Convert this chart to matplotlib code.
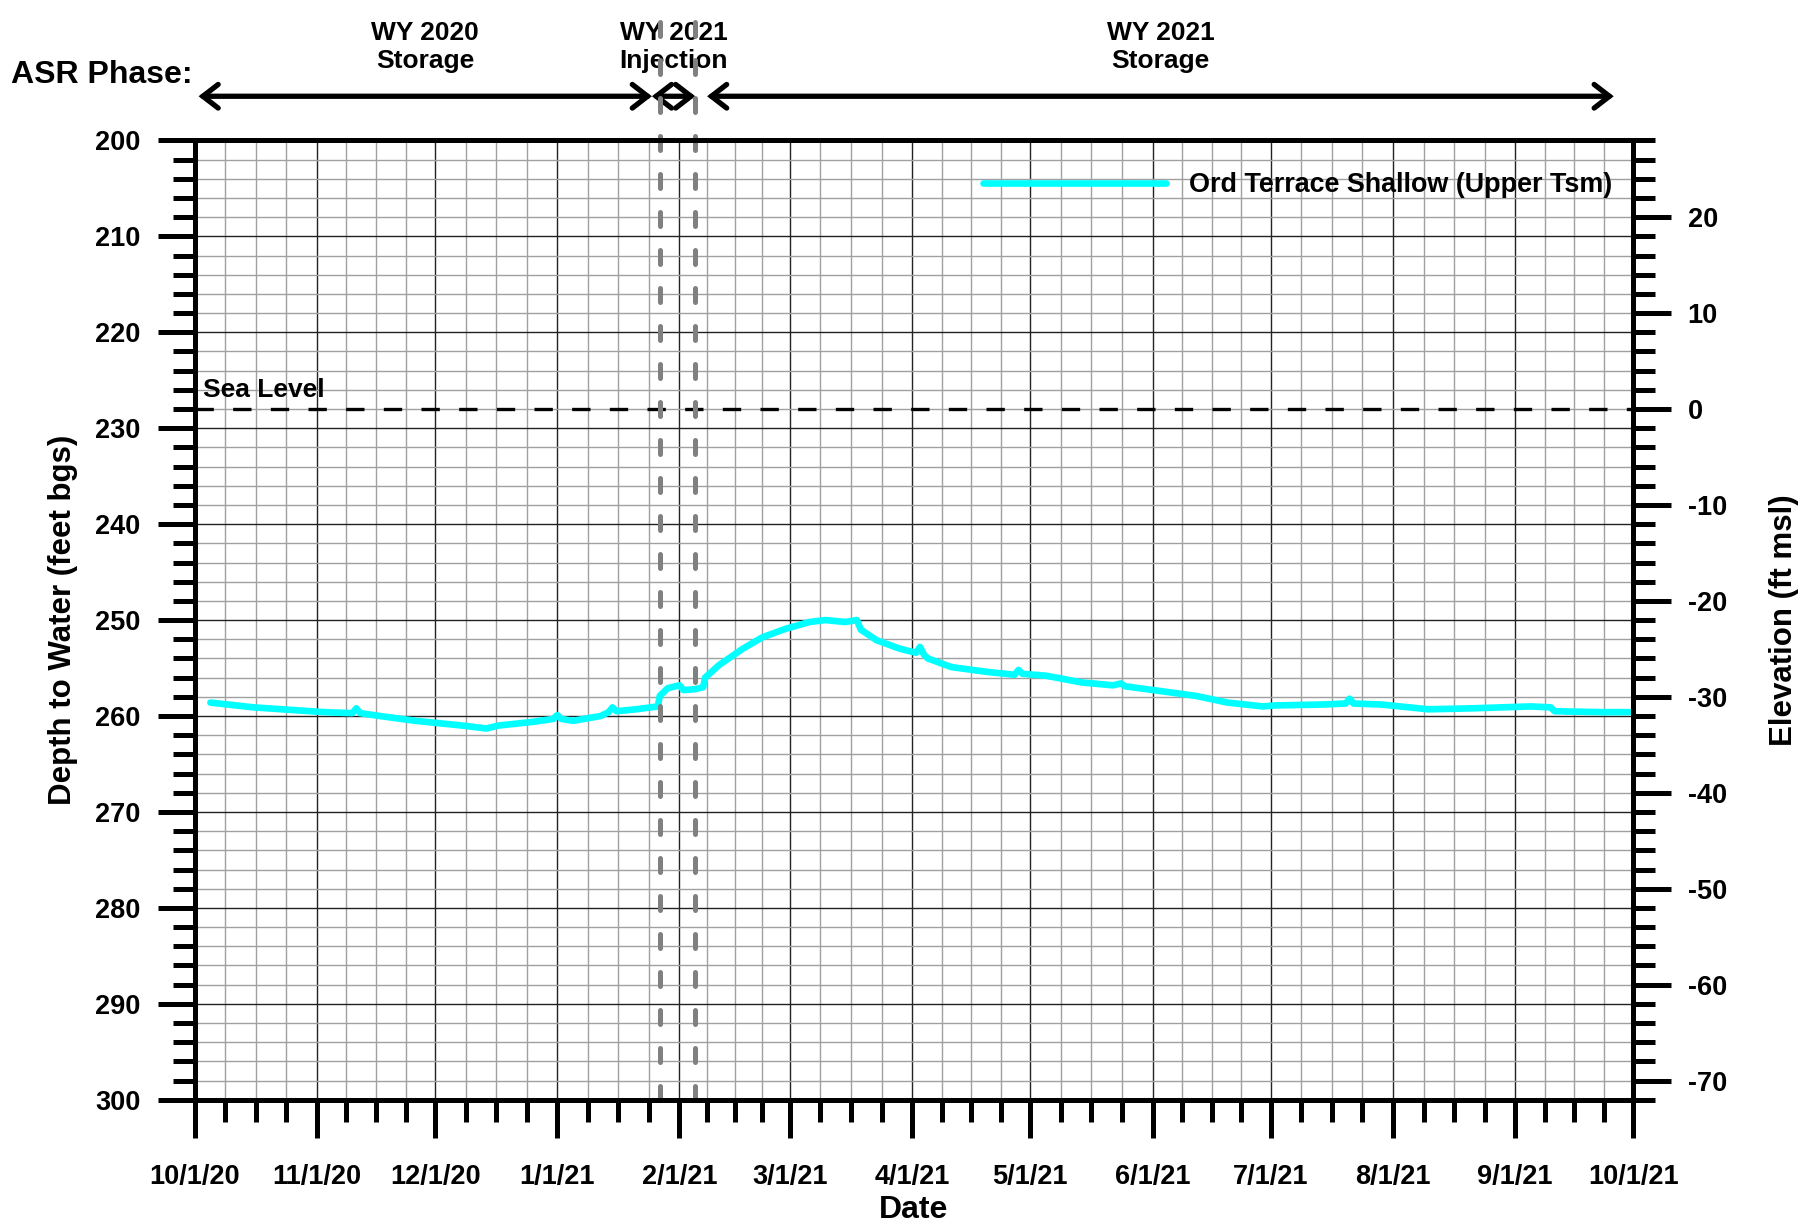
import pandas as pd
import matplotlib
matplotlib.use("Agg")
import matplotlib.pyplot as plt
import matplotlib.dates as mdates
from matplotlib import font_manager
from matplotlib.ticker import MultipleLocator, FixedLocator

# pick a narrow bold font if it is there
try:
    font_manager.findfont("Liberation Sans Narrow", fallback_to_default=False)
    narrow = "Liberation Sans Narrow"
except Exception:
    narrow = "Liberation Sans"
plt.rcParams["font.family"] = "Liberation Sans"
plt.rcParams["font.weight"] = "bold"
plt.rcParams["axes.unicode_minus"] = False

# water level record (depth to water, feet bgs)
dates = [
    "2020-10-05", "2020-10-16", "2020-11-03", "2020-11-10", "2020-11-11",
    "2020-11-12", "2020-11-17", "2020-11-26", "2020-12-08", "2020-12-14",
    "2020-12-17", "2020-12-26", "2020-12-31", "2021-01-01", "2021-01-02",
    "2021-01-05", "2021-01-12", "2021-01-14", "2021-01-15", "2021-01-16",
    "2021-01-21", "2021-01-26 12:00", "2021-01-27", "2021-01-29", "2021-02-01",
    "2021-02-02", "2021-02-05", "2021-02-07", "2021-02-07 12:00", "2021-02-11",
    "2021-02-17", "2021-02-22", "2021-02-28", "2021-03-06", "2021-03-10",
    "2021-03-15", "2021-03-18", "2021-03-19", "2021-03-23", "2021-03-29",
    "2021-04-02", "2021-04-03", "2021-04-04", "2021-04-05", "2021-04-11",
    "2021-04-20", "2021-04-27", "2021-04-28", "2021-04-29", "2021-05-05",
    "2021-05-14", "2021-05-22", "2021-05-24", "2021-05-25", "2021-06-03",
    "2021-06-12", "2021-06-20", "2021-06-29", "2021-07-02", "2021-07-14",
    "2021-07-20", "2021-07-21", "2021-07-22", "2021-07-29", "2021-08-10",
    "2021-08-21", "2021-09-05", "2021-09-10", "2021-09-11", "2021-09-23",
    "2021-09-30",
]
depths = [
    258.6, 259.1, 259.6, 259.7, 259.2,
    259.7, 260.0, 260.5, 261.0, 261.3,
    261.0, 260.6, 260.3, 259.9, 260.3,
    260.5, 260.0, 259.6, 259.1, 259.5,
    259.3, 259.0, 257.9, 257.1, 256.8,
    257.3, 257.2, 257.0, 256.0, 254.7,
    253.0, 251.8, 250.9, 250.2, 250.0,
    250.2, 250.0, 251.0, 252.1, 253.0,
    253.4, 252.8, 253.6, 254.0, 254.9,
    255.4, 255.7, 255.2, 255.6, 255.8,
    256.5, 256.8, 256.6, 256.9, 257.4,
    257.9, 258.6, 259.0, 258.9, 258.8,
    258.7, 258.2, 258.7, 258.8, 259.3,
    259.2, 259.0, 259.1, 259.5, 259.6,
    259.6,
]
series_label = "Ord Terrace Shallow (Upper Tsm)"

# phases along the top
phase_names = ["WY 2020\nStorage", "WY 2021\nInjection", "WY 2021\nStorage"]
phase_starts = ["2020-10-02", "2021-01-25", "2021-02-08"]
phase_ends = ["2021-01-25", "2021-02-05", "2021-09-26"]
injection_bounds = ["2021-01-27", "2021-02-05"]

ground_elev = 228  # elevation = ground_elev - depth
x_start, x_end = "2020-10-01", "2021-10-01"

df = pd.DataFrame({"date": pd.to_datetime(dates, format="mixed"), "depth": depths})

fig = plt.figure(figsize=(18.19, 12.24), dpi=100)
ax = fig.add_axes([0.107, 0.1015, 0.791, 0.7838])

ax.plot(df["date"], df["depth"], color="#00ffff", lw=4.8, label=series_label,
        solid_capstyle="round", zorder=4)

ax.set_ylim(300, 200)
ax.set_xlim(pd.Timestamp(x_start), pd.Timestamp(x_end))

# ticks
ax.yaxis.set_major_locator(MultipleLocator(10))
ax.yaxis.set_minor_locator(MultipleLocator(2))
months = pd.date_range(x_start, x_end, freq="MS")
minor_x = []
for a, b in zip(months[:-1], months[1:]):
    for k in (1, 2, 3):
        minor_x.append(mdates.date2num(a + (b - a) * k / 4))
ax.xaxis.set_major_locator(FixedLocator(mdates.date2num(months)))
ax.xaxis.set_minor_locator(FixedLocator(minor_x))
ax.xaxis.set_major_formatter(mdates.DateFormatter("%-m/%-d/%y"))

ax.grid(which="major", color="#222222", lw=1.0, zorder=0)
ax.grid(which="minor", color="#a0a0a0", lw=1.0, zorder=0)

for s in ax.spines.values():
    s.set_linewidth(3.6)
ax.tick_params(which="major", direction="out", length=27, width=3.6, pad=12,
               labelsize=19.5)
ax.tick_params(axis="x", which="major", pad=19)
ax.tick_params(which="minor", direction="out", length=16, width=3.6)
for lbl in ax.get_xticklabels() + ax.get_yticklabels():
    lbl.set_family(narrow)
    lbl.set_weight("bold")

ax.set_ylabel("Depth to Water (feet bgs)", fontsize=22.5, fontweight="bold", labelpad=12)
ax.set_xlabel("Date", fontsize=23, fontweight="bold", labelpad=4)

# right axis in elevation
ax2 = ax.twinx()
ax2.set_ylim(ground_elev - 300, ground_elev - 200)
ax2.yaxis.set_major_locator(MultipleLocator(10))
ax2.yaxis.set_minor_locator(MultipleLocator(2))
for s in ax2.spines.values():
    s.set_linewidth(3.6)
ax2.tick_params(which="major", direction="out", length=27, width=3.6, pad=12,
                labelsize=19.5)
ax2.tick_params(which="minor", direction="out", length=16, width=3.6)
for lbl in ax2.get_yticklabels():
    lbl.set_family(narrow)
    lbl.set_weight("bold")
ax2.set_ylabel("Elevation (ft msl)", fontsize=22.5, fontweight="bold", labelpad=30)

# sea level
ax.axhline(ground_elev, color="black", lw=2.4, ls=(0, (5.5, 5.8)), zorder=3)
ax.text(pd.Timestamp(x_start) + pd.Timedelta(days=2), ground_elev - 0.7, "Sea Level",
        fontsize=19, fontweight="bold", va="bottom", ha="left")

# injection period lines, running up into the header
for d in injection_bounds:
    ax.axvline(pd.Timestamp(d), ymin=0, ymax=1.15, color="#808080", lw=3.6,
               ls=(0, (2.8, 4.8)), dash_capstyle="round", clip_on=False, zorder=5)

# phase arrows and labels
trans = ax.get_xaxis_transform()
for name, a, b in zip(phase_names, phase_starts, phase_ends):
    xa, xb = pd.Timestamp(a), pd.Timestamp(b)
    ax.annotate("", xy=(mdates.date2num(xb), 1.046), xytext=(mdates.date2num(xa), 1.046),
                xycoords=trans, textcoords=trans,
                arrowprops=dict(arrowstyle="<->,head_length=1.1,head_width=0.85",
                                lw=3.8, color="black", shrinkA=0, shrinkB=0,
                                capstyle="round", joinstyle="miter"))
    mid = mdates.date2num(xa + (xb - xa) / 2)
    ax.text(mid, 1.097, name, transform=trans, ha="center", va="center",
            fontsize=19, fontweight="bold", family=narrow, linespacing=1.2)

fig.text(0.006, 0.939, "ASR Phase:", fontsize=23, fontweight="bold", va="center",
         ha="left")

leg = ax.legend(loc="center right", bbox_to_anchor=(0.985, 0.953), frameon=False,
                fontsize=19.4, handlelength=6.8, handletextpad=0.85, borderpad=0,
                borderaxespad=0)
for t in leg.get_texts():
    t.set_fontweight("bold")

fig.savefig("out.png", dpi=100)
